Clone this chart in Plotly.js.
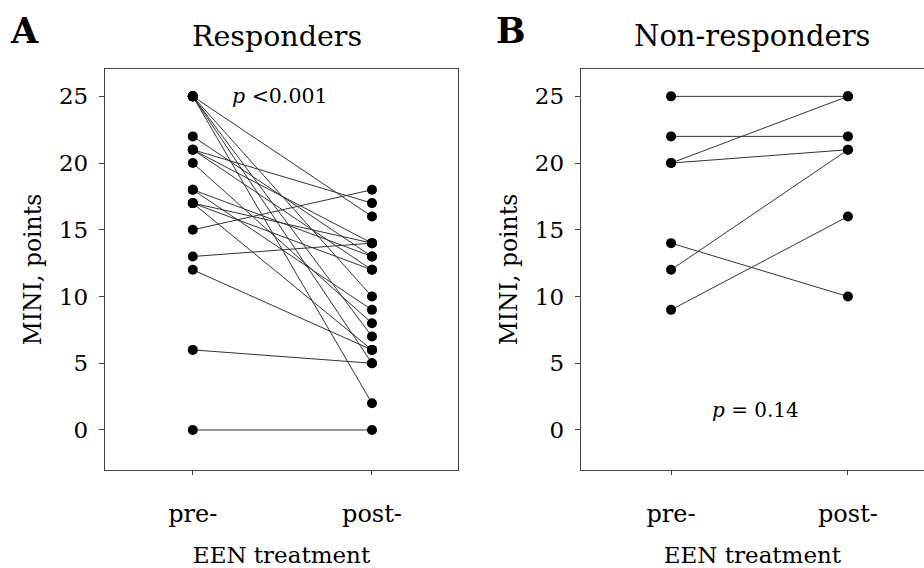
<!DOCTYPE html>
<html><head><meta charset="utf-8">
<script src="https://cdn.plot.ly/plotly-3.0.1.min.js"></script>
<style>body{margin:0;background:#fff}#c{width:924px;height:568px}</style>
</head><body><div id="c"></div>
<script>
// Panel A: Responders (MINI points, pre- and post- EEN treatment)
const respPre  = [25, 25, 25, 25, 25, 22, 21, 21, 21, 20, 18, 18, 17, 17, 17, 15, 13, 12, 6, 0];
const respPost = [16, 10,  7,  5,  2, 13, 17, 14, 12,  8, 13,  9, 14, 12,  6, 18, 14,  6, 5, 0];
// Panel B: Non-responders
const nonPre  = [25, 22, 20, 20, 14, 12,  9];
const nonPost = [25, 22, 25, 21, 10, 21, 16];
const timeLabels = ["pre-", "post-"];
const yTicks = [0, 5, 10, 15, 20, 25];

const FONT = "DejaVu Serif, Liberation Serif, serif";

function pairs(pre, post, xa, ya) {
  const xs = [], ys = [];
  for (let i = 0; i < pre.length; i++) {
    xs.push(0, 1, null);
    ys.push(pre[i], post[i], null);
  }
  return {
    x: xs, y: ys, xaxis: xa, yaxis: ya, type: "scatter", mode: "lines+markers",
    line: {color: "#333", width: 1}, marker: {color: "#000", size: 10},
    connectgaps: false, hoverinfo: "skip", showlegend: false
  };
}

const xCommon = {
  tickmode: "array", tickvals: [0, 1], ticktext: timeLabels,
  ticks: "outside", ticklen: 4, tickcolor: "#444", showline: true, linecolor: "#444",
  linewidth: 1.2, showgrid: false, zeroline: false, tickfont: {family: FONT, size: 24, color: "#000"},
  ticklabelstandoff: 18,
  title: {text: "EEN treatment", font: {family: FONT, size: 23, color: "#000"}, standoff: 20}
};
const yCommon = {
  range: [-3, 27.05], tickmode: "array", tickvals: yTicks,
  ticks: "outside", ticklen: 5, tickcolor: "#444", showline: true, linecolor: "#444",
  linewidth: 1.2, showgrid: false, zeroline: false, tickfont: {family: FONT, size: 23, color: "#000"},
  ticklabelstandoff: 6,
  title: {text: "MINI, points", font: {family: FONT, size: 23.5, color: "#000"}, standoff: 10}
};

const layout = {
  width: 924, height: 568,
  margin: {l: 105, r: 0, t: 69, b: 98},
  paper_bgcolor: "#fff", plot_bgcolor: "#fff",
  font: {family: FONT, color: "#000"},
  xaxis:  Object.assign({}, xCommon, {domain: [0, 0.431], range: [-0.49, 1.48], mirror: true, anchor: "y"}),
  yaxis:  Object.assign({}, yCommon, {domain: [0, 1], mirror: true, anchor: "x"}),
  xaxis2: Object.assign({}, xCommon, {domain: [0.581, 1], range: [-0.51, 1.43], mirror: true, anchor: "y2"}),
  yaxis2: Object.assign({}, yCommon, {domain: [0, 1], mirror: false, anchor: "x2"}),
  annotations: [
    {text: "<b>A</b>", xref: "paper", yref: "paper", x: -0.118, y: 1.04, xanchor: "left", yanchor: "bottom",
     showarrow: false, font: {family: FONT, size: 35, color: "#000"}},
    {text: "<b>B</b>", xref: "paper", yref: "paper", x: 0.475, y: 1.04, xanchor: "left", yanchor: "bottom",
     showarrow: false, font: {family: FONT, size: 35, color: "#000"}},
    {text: "Responders", xref: "paper", yref: "paper", x: 0.21, y: 1.035, xanchor: "center", yanchor: "bottom",
     showarrow: false, font: {family: FONT, size: 28.5, color: "#000"}},
    {text: "Non-responders", xref: "paper", yref: "paper", x: 0.79, y: 1.035, xanchor: "center", yanchor: "bottom",
     showarrow: false, font: {family: FONT, size: 29, color: "#000"}},
    {text: "<i>p</i> <0.001", xref: "x", yref: "y", x: 0.21, y: 25, xanchor: "left", yanchor: "middle",
     showarrow: false, font: {family: FONT, size: 20.5, color: "#000"}},
    {text: "<i>p</i> = 0.14", xref: "x2", yref: "y2", x: 0.48, y: 1.5, xanchor: "center", yanchor: "middle",
     showarrow: false, font: {family: FONT, size: 20, color: "#000"}}
  ]
};

Plotly.newPlot("c", [pairs(respPre, respPost, "x", "y"), pairs(nonPre, nonPost, "x2", "y2")], layout,
  {displayModeBar: false, staticPlot: true});
</script></body></html>
